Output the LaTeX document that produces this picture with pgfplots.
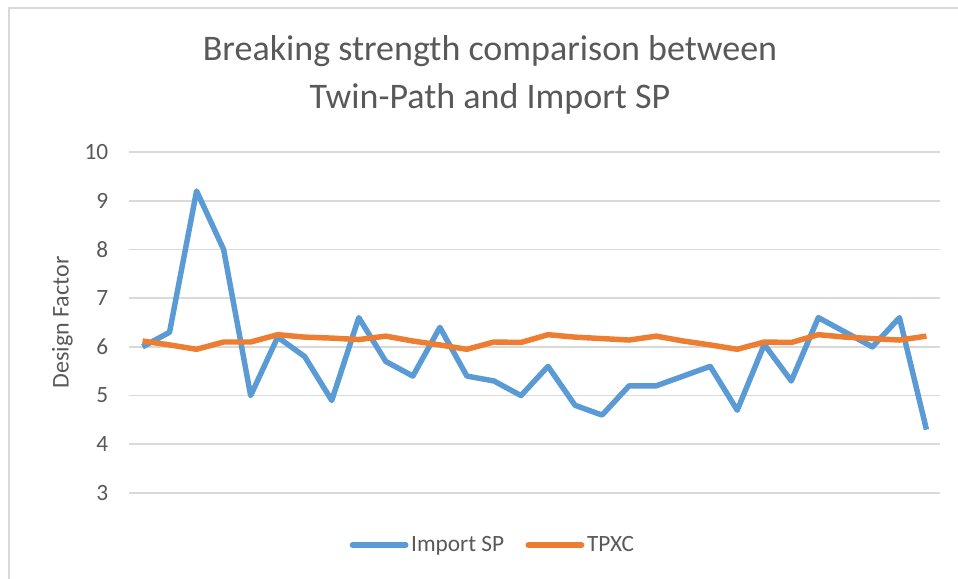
\documentclass[border=0pt]{standalone}
\usepackage{fontspec}
\setmainfont{Carlito}
\usepackage{pgfplots}
\pgfplotsset{compat=1.18}
\definecolor{sblue}{HTML}{5B9BD5}
\definecolor{sorange}{HTML}{ED7D31}
\definecolor{gridc}{HTML}{D9D9D9}
\definecolor{txt}{HTML}{595959}
\begin{document}
\begin{tikzpicture}
\useasboundingbox (0pt,0pt) rectangle (718.5pt,-434.25pt);
\draw[gridc,line width=1.5pt] (6.75pt,-434.25pt) -- (6.75pt,-6pt) -- (718.5pt,-6pt);
\node[txt,align=center,font=\fontsize{27}{36}\selectfont] at (367.5pt,-56.25pt) {Breaking strength comparison between\\Twin-Path and Import SP};
\begin{axis}[
  at={(96.75pt,-369.75pt)}, anchor=south west,
  scale only axis, width=608.25pt, height=255.75pt,
  xmin=-0.5, xmax=29.5, ymin=3, ymax=10,
  ytick={3,4,5,6,7,8,9,10},
  xtick=\empty,
  ymajorgrids, grid style={gridc,line width=1.2pt},
  axis line style={draw=none},
  major tick length=0pt,
  /pgf/number format/assume math mode=true,
  tick label style={txt,font=\fontsize{17.5}{20}\selectfont},
  yticklabel style={xshift=-12pt},
  ylabel={Design Factor},
  every axis y label/.style={at={(rel axis cs:0,0.5)},rotate=90,anchor=center,yshift=50pt,txt,font=\fontsize{18}{21}\selectfont},
  legend style={at={(0.449,-0.1525)},anchor=center,draw=none,fill=none,legend columns=2,
    font=\fontsize{17.5}{20}\selectfont,text=txt,/tikz/every even column/.append style={column sep=14pt}},
  legend image code/.code={\draw[#1,line cap=round] (0pt,0pt) -- (40pt,0pt);},
  legend cell align=left,
]
\addplot[sblue,line width=4.1pt,line join=round] coordinates {
(0,6.0)(1,6.3)(2,9.2)(3,8.0)(4,5.0)(5,6.2)(6,5.8)(7,4.9)(8,6.6)(9,5.7)
(10,5.4)(11,6.4)(12,5.4)(13,5.3)(14,5.0)(15,5.6)(16,4.8)(17,4.6)(18,5.2)(19,5.2)
(20,5.4)(21,5.6)(22,4.7)(23,6.05)(24,5.3)(25,6.6)(26,6.3)(27,6.0)(28,6.6)(29,4.3)};
\addlegendentry{Import SP}
\addplot[sorange,line width=4.1pt,line join=round] coordinates {
(0,6.12)(1,6.04)(2,5.95)(3,6.1)(4,6.1)(5,6.25)(6,6.2)(7,6.18)(8,6.15)(9,6.22)
(10,6.12)(11,6.04)(12,5.95)(13,6.1)(14,6.09)(15,6.25)(16,6.2)(17,6.17)(18,6.14)(19,6.22)
(20,6.12)(21,6.04)(22,5.95)(23,6.1)(24,6.09)(25,6.25)(26,6.2)(27,6.17)(28,6.14)(29,6.22)};
\addlegendentry{TPXC}
\end{axis}
\end{tikzpicture}
\end{document}
